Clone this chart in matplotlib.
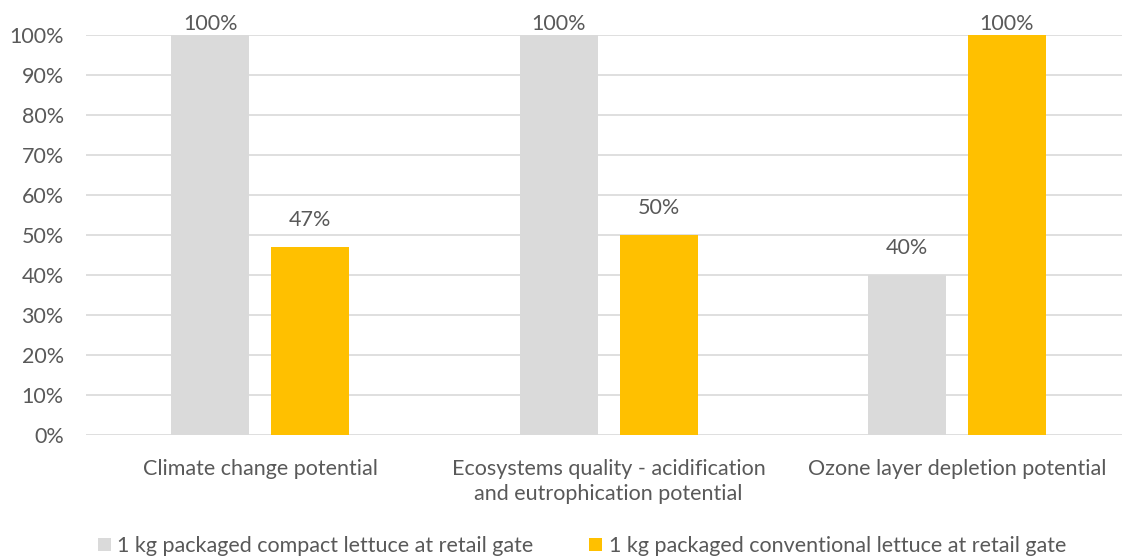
import numpy as np
import matplotlib.pyplot as plt

categories = ['Climate change potential',
              'Ecosystems quality - acidification\nand eutrophication potential',
              'Ozone layer depletion potential']
compact = [100, 100, 40]
conventional = [47, 50, 100]
series_names = ['1 kg packaged compact lettuce at retail gate',
                '1 kg packaged conventional lettuce at retail gate']

plt.rcParams['font.family'] = ['Lato', 'DejaVu Sans']
text_col = '#595959'
fs = 15.5

fig = plt.figure(figsize=(11.22, 5.6), dpi=100)
ax = fig.add_axes([86 / 1122, 1 - 435 / 560, 1 - 86 / 1122, 400 / 560])

x = np.arange(len(categories))
w = 0.224
off = 0.1435
b1 = ax.bar(x - off, compact, w, color='#DADADA', label=series_names[0], zorder=2)
b2 = ax.bar(x + off, conventional, w, color='#FFC000', label=series_names[1], zorder=2)

for bars, vals in [(b1, compact), (b2, conventional)]:
    for r, v in zip(bars, vals):
        # labels at the top are pushed down to stay inside the chart
        dy = 1 if v >= 100 else 12
        ax.annotate(f'{v}%', (r.get_x() + r.get_width() / 2, v),
                    xytext=(0, dy), textcoords='offset points',
                    ha='center', va='bottom', fontsize=fs, color=text_col)

ax.set_ylim(0, 100)
ax.set_xlim(-0.5, 2.474)
ax.set_yticks(range(0, 101, 10))
ax.set_yticklabels([f'{t}%' for t in range(0, 101, 10)])
ax.set_xticks(x)
ax.set_xticklabels(categories, linespacing=1.35)
ax.tick_params(axis='both', length=0, labelsize=fs, labelcolor=text_col)
ax.tick_params(axis='x', pad=17)
ax.tick_params(axis='y', pad=16)
ax.yaxis.grid(True, color='#D9D9D9', linewidth=1.2, zorder=0)
for s in ax.spines.values():
    s.set_visible(False)
ax.set_axisbelow(True)

fig.legend(loc='center', bbox_to_anchor=(582 / 1122, 1 - 546 / 560), ncol=2,
           frameon=False, fontsize=fs, labelcolor=text_col,
           handlelength=0.6, handleheight=0.6, handletextpad=0.3, columnspacing=2.6)

fig.savefig('out.png', dpi=100)
